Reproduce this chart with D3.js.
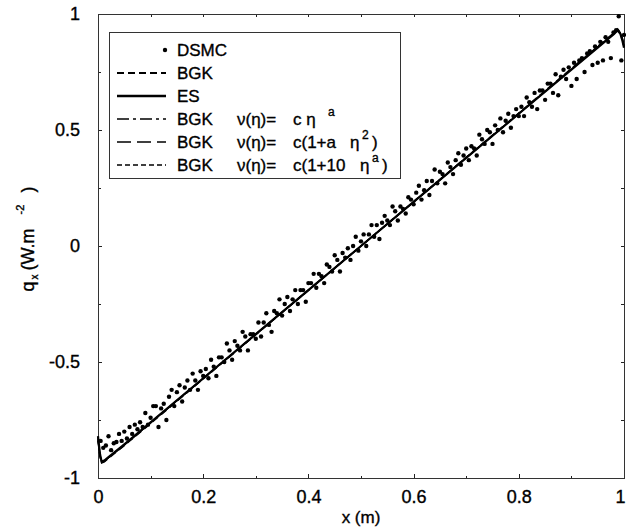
<!DOCTYPE html>
<html lang="en">
<head>
    <meta charset="UTF-8">
    <title>q_x profile</title>
    <style>
        body{margin:0;background:#fff;}
        svg text{font-family:"Liberation Sans",Arial,Helvetica,sans-serif;fill:#000;stroke:#000;stroke-width:0.35px;}
        .axis path{display:none;}
        .axis line{stroke:#222;shape-rendering:crispEdges;}
        .axis text{font-size:18px;}
    </style>
    <script src="https://cdn.jsdelivr.net/npm/d3@7"></script>
</head>
<body>
<script>
    // data
    var dsmcX = [
        0.005,0.010,0.015,0.020,0.025,0.030,0.035,0.040,0.045,0.050,0.055,0.060,0.065,0.070,0.075,0.080,0.085,0.090,0.095,0.100,
        0.105,0.110,0.115,0.120,0.125,0.130,0.135,0.140,0.145,0.150,0.155,0.160,0.165,0.170,0.175,0.180,0.185,0.190,0.195,0.200,
        0.205,0.210,0.215,0.220,0.225,0.230,0.235,0.240,0.245,0.250,0.255,0.260,0.265,0.270,0.275,0.280,0.285,0.290,0.295,0.300,
        0.305,0.310,0.315,0.320,0.325,0.330,0.335,0.340,0.345,0.350,0.355,0.360,0.365,0.370,0.375,0.380,0.385,0.390,0.395,0.400,
        0.405,0.410,0.415,0.420,0.425,0.430,0.435,0.440,0.445,0.450,0.455,0.460,0.465,0.470,0.475,0.480,0.485,0.490,0.495,0.500,
        0.505,0.510,0.515,0.520,0.525,0.530,0.535,0.540,0.545,0.550,0.555,0.560,0.565,0.570,0.575,0.580,0.585,0.590,0.595,0.600,
        0.605,0.610,0.615,0.620,0.625,0.630,0.635,0.640,0.645,0.650,0.655,0.660,0.665,0.670,0.675,0.680,0.685,0.690,0.695,0.700,
        0.705,0.710,0.715,0.720,0.725,0.730,0.735,0.740,0.745,0.750,0.755,0.760,0.765,0.770,0.775,0.780,0.785,0.790,0.795,0.800,
        0.805,0.810,0.815,0.820,0.825,0.830,0.835,0.840,0.845,0.850,0.855,0.860,0.865,0.870,0.875,0.880,0.885,0.890,0.895,0.900,
        0.905,0.910,0.915,0.920,0.925,0.930,0.935,0.940,0.945,0.950,0.955,0.960,0.965,0.970,0.975,0.980,0.985,0.990,0.995,1.000
    ];
    var dsmcQ = [
        -0.84,-0.87,-0.86,-0.82,-0.88,-0.85,-0.845,-0.81,-0.84,-0.80,-0.83,-0.78,-0.81,-0.77,-0.79,-0.76,-0.78,-0.72,-0.77,-0.74,
        -0.69,-0.69,-0.78,-0.70,-0.68,-0.75,-0.65,-0.62,-0.69,-0.63,-0.60,-0.67,-0.61,-0.58,-0.62,-0.55,-0.58,-0.62,-0.54,-0.56,
        -0.53,-0.57,-0.49,-0.52,-0.56,-0.48,-0.48,-0.50,-0.42,-0.45,-0.49,-0.41,-0.43,-0.45,-0.37,-0.39,-0.45,-0.38,-0.38,-0.40,
        -0.33,-0.39,-0.33,-0.29,-0.34,-0.37,-0.28,-0.29,-0.23,-0.30,-0.25,-0.22,-0.28,-0.23,-0.19,-0.25,-0.19,-0.19,-0.24,-0.16,
        -0.16,-0.12,-0.18,-0.12,-0.13,-0.16,-0.08,-0.09,-0.11,-0.04,-0.06,-0.11,-0.03,-0.05,-0.01,-0.06,0.00,0.04,-0.02,0.02,
        0.05,0.00,0.05,0.09,0.04,0.09,0.03,0.10,0.13,0.11,0.09,0.17,0.15,0.11,0.17,0.16,0.14,0.21,0.20,0.18,
        0.23,0.26,0.20,0.24,0.28,0.22,0.28,0.33,0.27,0.32,0.31,0.27,0.36,0.34,0.31,0.37,0.40,0.35,0.39,0.42,
        0.37,0.43,0.42,0.39,0.48,0.46,0.44,0.50,0.49,0.44,0.52,0.50,0.55,0.49,0.54,0.57,0.51,0.56,0.59,0.56,
        0.60,0.56,0.64,0.62,0.60,0.66,0.59,0.67,0.67,0.63,0.70,0.70,0.66,0.74,0.65,0.73,0.76,0.72,0.77,0.69,
        0.79,0.72,0.80,0.81,0.75,0.83,0.84,0.78,0.86,0.79,0.88,0.80,0.90,0.88,0.81,0.92,0.93,0.99,0.80,0.91
    ];

    var lineX    = [0, 0.002, 0.004, 0.007, 0.012, 0.02, 0.05, 0.1, 0.2, 0.3, 0.4, 0.5, 0.6, 0.7, 0.8, 0.9, 0.95, 0.98, 0.988, 0.993, 0.997, 1];
    var esQ      = [-0.82, -0.86, -0.90, -0.93, -0.925, -0.91, -0.855, -0.76, -0.57, -0.38, -0.19, 0.0, 0.19, 0.38, 0.57, 0.76, 0.855, 0.912, 0.93, 0.915, 0.885, 0.855];
    var bgkQ     = [-0.84, -0.875, -0.91, -0.935, -0.93, -0.915, -0.86, -0.765, -0.573, -0.382, -0.191, 0.0, 0.191, 0.382, 0.573, 0.765, 0.86, 0.917, 0.935, 0.92, 0.895, 0.865];
    var bgkPowQ  = [-0.83, -0.87, -0.905, -0.932, -0.928, -0.912, -0.858, -0.762, -0.571, -0.381, -0.19, 0.0, 0.19, 0.381, 0.571, 0.762, 0.858, 0.914, 0.932, 0.918, 0.89, 0.86];
    var bgkQuadQ = [-0.835, -0.872, -0.907, -0.934, -0.929, -0.913, -0.859, -0.763, -0.572, -0.381, -0.19, 0.0, 0.19, 0.381, 0.572, 0.763, 0.859, 0.915, 0.933, 0.919, 0.892, 0.862];
    var bgkTenQ  = [-0.825, -0.865, -0.902, -0.931, -0.927, -0.911, -0.857, -0.761, -0.571, -0.38, -0.19, 0.0, 0.19, 0.38, 0.571, 0.761, 0.857, 0.913, 0.931, 0.917, 0.888, 0.858];

    var xTicks = [0, 0.2, 0.4, 0.6, 0.8, 1];
    var xMinor = [0.1, 0.3, 0.5, 0.7, 0.9];
    var yTicks = [-1, -0.5, 0, 0.5, 1];
    var yMinor = [-0.75, -0.25, 0.25, 0.75];

    var width = 626, height = 531;
    var svg = d3.select("body").append("svg")
            .attr("width", width)
            .attr("height", height);

    var xScale = d3.scaleLinear().domain([0, 1]).range([98, 624]);
    var yScale = d3.scaleLinear().domain([-1, 1]).range([478, 14]);

    //坐标轴 (ticks pointing inward, on all four sides)
    var lbl = function(d){ return String(d); };
    var gx = svg.append("g").attr("class","axis").attr("transform","translate(0,478)")
            .call(d3.axisBottom(xScale).tickValues(xTicks).tickSize(-4).tickPadding(12).tickFormat(lbl));
    gx.selectAll("text").filter(function(d){ return d === 1; }).attr("dx", -4);
    svg.append("g").attr("class","axis").attr("transform","translate(0,478)")
            .call(d3.axisBottom(xScale).tickValues(xMinor).tickSize(-2).tickFormat(""));
    svg.append("g").attr("class","axis").attr("transform","translate(0,14)")
            .call(d3.axisTop(xScale).tickValues(xTicks.concat(xMinor)).tickSize(-3).tickFormat(""));
    svg.append("g").attr("class","axis").attr("transform","translate(98,0)")
            .call(d3.axisLeft(yScale).tickValues(yTicks).tickSize(-4).tickPadding(18).tickFormat(lbl));
    svg.append("g").attr("class","axis").attr("transform","translate(98,0)")
            .call(d3.axisLeft(yScale).tickValues(yMinor).tickSize(-3).tickFormat(""));
    svg.append("g").attr("class","axis").attr("transform","translate(624,0)")
            .call(d3.axisRight(yScale).tickValues(yTicks.concat(yMinor)).tickSize(-3).tickFormat(""));

    svg.append("rect")
            .attr("x", xScale(0)).attr("y", yScale(1))
            .attr("width", xScale(1) - xScale(0)).attr("height", yScale(-1) - yScale(1))
            .attr("fill", "none").attr("stroke", "#333").attr("stroke-width", 1)
            .attr("shape-rendering", "crispEdges");

    // axis titles
    svg.append("text").attr("x", 361).attr("y", 523).attr("text-anchor","middle")
            .style("font-size","17px").text("x (m)");

    var yt = svg.append("text").attr("transform","translate(34,239) rotate(-90)")
            .attr("text-anchor","middle").style("font-size","18px");
    yt.append("tspan").text("q");
    yt.append("tspan").attr("dy", 4).attr("dx", 2).style("font-size","10px").text("x");
    yt.append("tspan").attr("dy", -4).attr("dx", 4).text("(W.m");
    yt.append("tspan").attr("dy", -10).attr("dx", 14).style("font-size","11px").text("-2");
    yt.append("tspan").attr("dy", 10).attr("dx", 12).text(")");

    // model curves
    var series = [
        {q: esQ,      dash: null,       w: 2.2},
        {q: bgkQ,     dash: "7,4",      w: 1.6},
        {q: bgkPowQ,  dash: "12,4,3,4", w: 1.3},
        {q: bgkQuadQ, dash: "14,6",     w: 1.3},
        {q: bgkTenQ,  dash: "5,3",      w: 1.3}
    ];
    var line = d3.line()
            .x(function(d){ return xScale(d[0]); })
            .y(function(d){ return yScale(d[1]); });

    // DSMC points
    svg.append("g").selectAll("circle")
            .data(d3.zip(dsmcX, dsmcQ))
            .enter().append("circle")
            .attr("cx", function(d){ return xScale(d[0]); })
            .attr("cy", function(d){ return yScale(d[1]); })
            .attr("r", 2.2)
            .attr("fill", "#000");

    series.forEach(function(s){
        svg.append("path")
                .attr("d", line(d3.zip(lineX, s.q)))
                .attr("fill", "none")
                .attr("stroke", "#000")
                .attr("stroke-width", s.w)
                .attr("stroke-dasharray", s.dash);
    });

    // legend
    var lg = svg.append("g");
    lg.append("rect").attr("x", 109).attr("y", 32).attr("width", 291).attr("height", 146)
            .attr("fill", "#fff").attr("stroke", "#333").attr("stroke-width", 1)
            .attr("shape-rendering", "crispEdges");

    var rowY = [50, 73, 96, 119, 142, 165];
    lg.append("circle").attr("cx", 165).attr("cy", rowY[0]).attr("r", 2.2).attr("fill", "#000");
    var legendLines = [null, series[1], series[0], series[2], series[3], series[4]];
    legendLines.forEach(function(s, i){
        if(!s) return;
        lg.append("line").attr("x1", 117).attr("x2", 166)
                .attr("y1", rowY[i]).attr("y2", rowY[i])
                .attr("stroke", "#000").attr("stroke-width", s.w + 0.3)
                .attr("stroke-dasharray", s.dash);
    });

    var names = ["DSMC", "BGK", "ES", "BGK", "BGK", "BGK"];
    names.forEach(function(n, i){
        lg.append("text").attr("x", 177).attr("y", rowY[i] + 6).style("font-size","17px").text(n);
    });
    [3, 4, 5].forEach(function(i){
        lg.append("text").attr("x", 237).attr("y", rowY[i] + 6).style("font-size","17px").text("ν(η)=");
    });
    function addText(x, y, s, size){
        lg.append("text").attr("x", x).attr("y", y).style("font-size", size + "px").text(s);
    }
    // c η^a
    addText(293, rowY[3] + 6, "c η", 17);
    addText(328, rowY[3] - 3, "a", 12);
    // c(1+a η^2)
    addText(293, rowY[4] + 6, "c(1+a", 17);
    addText(350, rowY[4] + 6, "η", 17);
    addText(362, rowY[4] - 3, "2", 12);
    addText(372, rowY[4] + 6, ")", 17);
    // c(1+10 η^a)
    addText(293, rowY[5] + 6, "c(1+10", 17);
    addText(360, rowY[5] + 6, "η", 17);
    addText(372, rowY[5] - 3, "a", 12);
    addText(382, rowY[5] + 6, ")", 17);
</script>
</body>
</html>
